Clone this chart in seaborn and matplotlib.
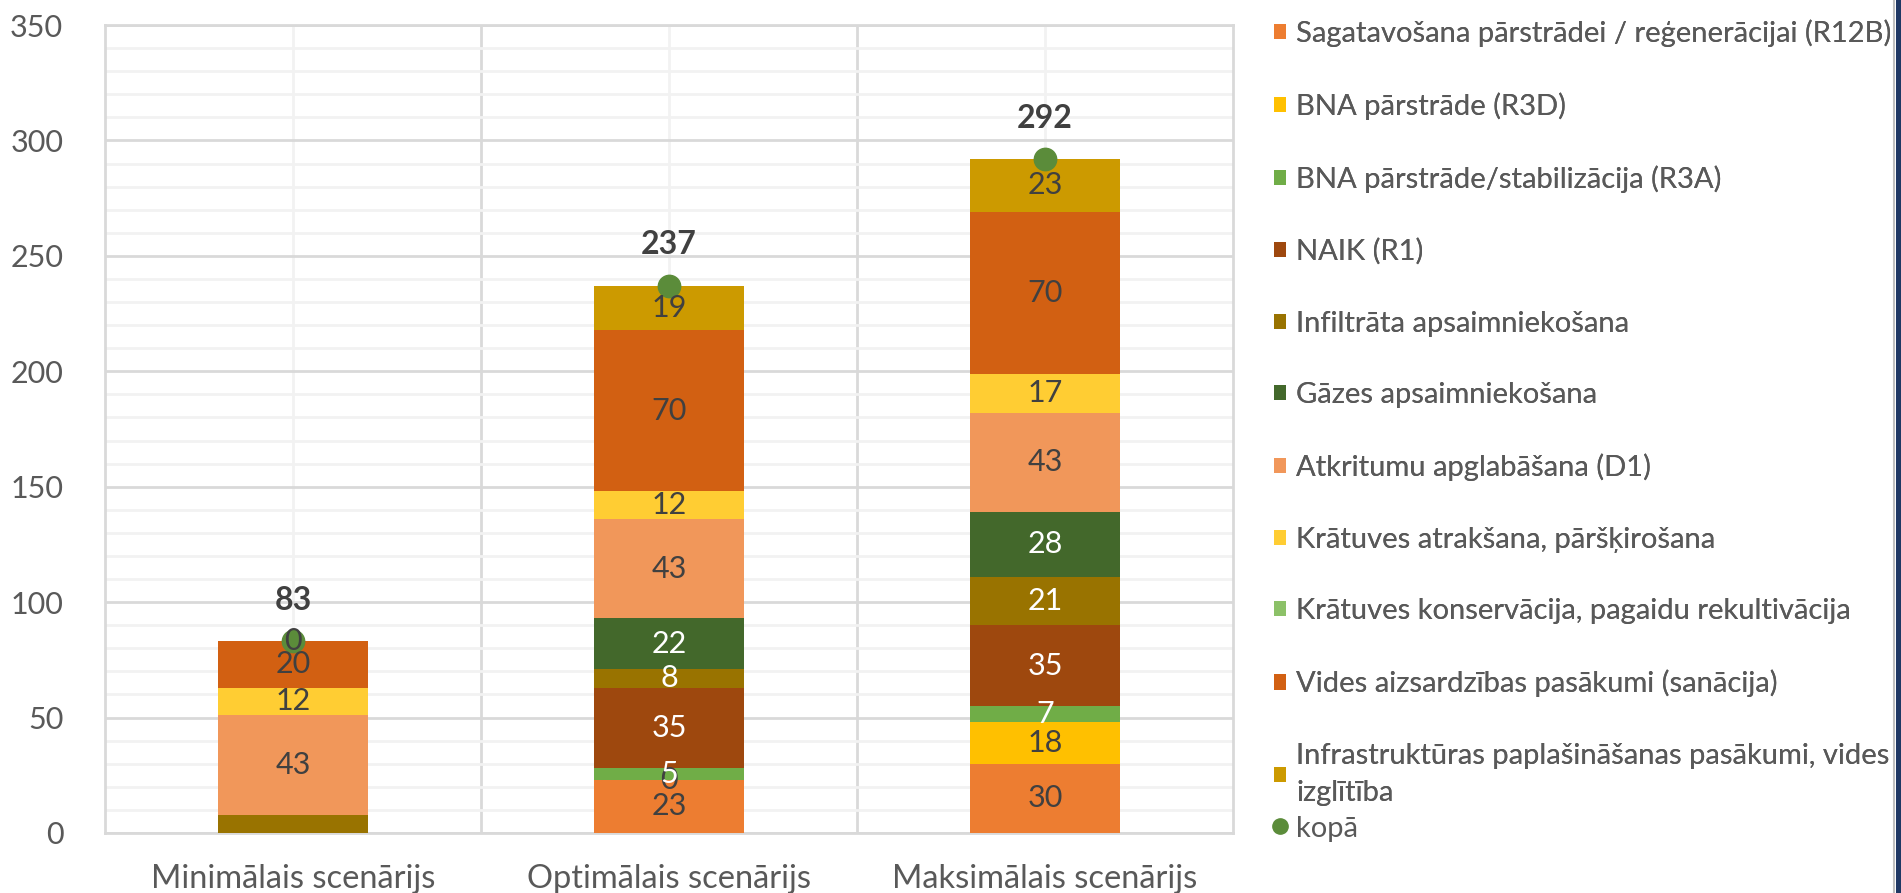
import numpy as np
import matplotlib
matplotlib.use("Agg")
import matplotlib.pyplot as plt
import seaborn as sns
from matplotlib.patches import Patch, Rectangle
from matplotlib.lines import Line2D
from matplotlib.ticker import MultipleLocator, FixedLocator

# Dati
categories = ["Minimālais scenārijs", "Optimālais scenārijs", "Maksimālais scenārijs"]

series_names = [
    "Sagatavošana pārstrādei / reģenerācijai (R12B)",
    "BNA pārstrāde (R3D)",
    "BNA pārstrāde/stabilizācija (R3A)",
    "NAIK (R1)",
    "Infiltrāta apsaimniekošana",
    "Gāzes apsaimniekošana",
    "Atkritumu apglabāšana (D1)",
    "Krātuves atrakšana, pāršķirošana",
    "Krātuves konservācija, pagaidu rekultivācija",
    "Vides aizsardzības pasākumi (sanācija)",
    "Infrastruktūras paplašināšanas pasākumi, vides\nizglītība",
]

# vērtības pa sērijām (None = nav datu)
sagatavosana = [None, 23, 30]
bna_r3d = [None, 0, 18]
bna_r3a = [None, 5, 7]
naik = [None, 35, 35]
infiltrats = [8, 8, 21]
gazes = [None, 22, 28]
apglabasana = [43, 43, 43]
atraksana = [12, 12, 17]
konservacija = [None, None, None]
vides = [20, 70, 70]
infrastruktura = [0, 19, 23]

series_values = [sagatavosana, bna_r3d, bna_r3a, naik, infiltrats, gazes,
                 apglabasana, atraksana, konservacija, vides, infrastruktura]

totals = [83, 237, 292]
total_label = "kopā"

series_colors = ["#ED7D31", "#FFC000", "#70AD47", "#9E480E", "#997300", "#43682B",
                 "#F1975A", "#FFCD33", "#8CC168", "#D26012", "#CC9A00"]
white_text = {2, 3, 4, 5}
hidden_labels = {(0, 4)}  # (kategorija, sērija) bez datu etiķetes

sns.set_theme(style="white")
plt.rcParams["font.family"] = ["Lato", "DejaVu Sans"]
txt_color = "#595959"
lbl_dark = "#404040"

fig = plt.figure(figsize=(19.01, 8.93), dpi=100)
ax = fig.add_axes([0.0552, 0.0672, 0.5934, 0.9048])

vals = np.array([[np.nan if v is None else v for v in s] for s in series_values], dtype=float)
filled = np.nan_to_num(vals)
cum = np.cumsum(filled, axis=0)
x = np.arange(len(categories))

# Kumulatīvie stabiņi, zīmēti no augšas uz leju
for i in reversed(range(len(series_names))):
    sns.barplot(x=x, y=cum[i], color=series_colors[i], width=0.4, ax=ax,
                saturation=1, native_scale=True, zorder=3, linewidth=0)

# Datu etiķetes
for i in range(len(series_names)):
    for j in range(len(categories)):
        v = vals[i, j]
        if np.isnan(v) or (j, i) in hidden_labels:
            continue
        ycen = cum[i, j] - v / 2
        col = "white" if (i in white_text and v > 0) else lbl_dark
        ax.text(x[j], ycen, f"{int(v)}", ha="center", va="center", fontsize=22,
                color=col, zorder=6)

# kopā punkti
ax.scatter(x, totals, s=260, color="#5B8C3A", zorder=5)
for j, t in enumerate(totals):
    ax.annotate(f"{t}", (x[j], t), xytext=(0, 19), textcoords="offset points",
                ha="center", va="bottom", fontsize=23, fontweight="bold", color=lbl_dark, zorder=6)

ax.set_xlim(-0.5, len(categories) - 0.5)
ax.set_ylim(0, 350)
ax.yaxis.set_major_locator(MultipleLocator(50))
ax.yaxis.set_minor_locator(MultipleLocator(10))
ax.xaxis.set_major_locator(FixedLocator(x))
ax.xaxis.set_minor_locator(FixedLocator(x[:-1] + 0.5))
ax.set_xticklabels(categories)
ax.grid(which="major", axis="y", color="#D9D9D9", linewidth=2, zorder=0)
ax.grid(which="minor", axis="y", color="#F2F2F2", linewidth=2, zorder=0)
ax.grid(which="minor", axis="x", color="#D9D9D9", linewidth=2, zorder=0)
ax.grid(which="major", axis="x", color="#F2F2F2", linewidth=2, zorder=0)
ax.set_axisbelow(True)
ax.tick_params(axis="both", which="both", length=0, labelcolor=txt_color)
ax.tick_params(axis="x", labelsize=23.5, pad=22)
ax.tick_params(axis="y", labelsize=22, pad=30)
for sp in ax.spines.values():
    sp.set_color("#D9D9D9")
    sp.set_linewidth(2)
ax.set_xlabel("")
ax.set_ylabel("")

# Leģenda
handles = [Patch(facecolor=c, edgecolor="none") for c in series_colors]
leg = fig.legend(handles, series_names, loc="upper left", bbox_to_anchor=(0.66, 1.0),
                 frameon=False, fontsize=21, labelcolor=txt_color, labelspacing=1.56,
                 handlelength=0.42, handleheight=0.42, handletextpad=0.35,
                 borderaxespad=0.25)
leg.get_texts()[-1].set_linespacing(1.55)
dot = Line2D([], [], marker="o", linestyle="none", color="#5B8C3A", markersize=11)
leg2 = fig.legend([dot], [total_label], loc="upper left", bbox_to_anchor=(0.66, 0.108),
                  frameon=False, fontsize=21, labelcolor=txt_color,
                  handlelength=0.42, handletextpad=0.35, borderaxespad=0.25)
fig.add_artist(leg)

# labā mala
fig.add_artist(Line2D([0.9965, 0.9965], [0, 1], transform=fig.transFigure, color="#BFBFBF", lw=1.5))
fig.add_artist(Rectangle((0.9975, 0), 0.0025, 1, transform=fig.transFigure,
                         facecolor="#1F3864", edgecolor="none"))

fig.savefig("out.png", dpi=100)
